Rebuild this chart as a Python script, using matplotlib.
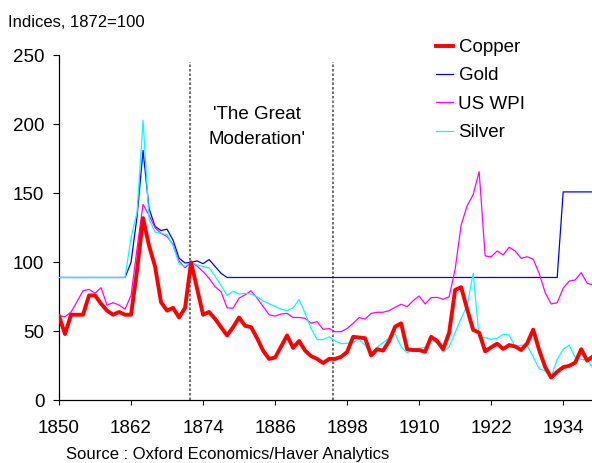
import numpy as np
import matplotlib
matplotlib.use("Agg")
import matplotlib.pyplot as plt

plt.rcParams['font.family'] = ['Liberation Sans', 'DejaVu Sans']

years = np.arange(1850, 1940)

copper = [61, 48, 62, 62, 62, 76, 76, 70, 65, 62,
          64, 62, 62, 94, 132, 112, 97, 71, 65, 67,
          60, 67, 100, 81, 62, 64, 59, 53, 47, 53,
          60, 54, 53, 45, 36, 30, 31, 39, 47, 38,
          43, 36, 32, 30, 27, 30, 30, 31.5, 35, 46,
          45.5, 45, 32.5, 37, 36, 43, 53.4, 55.8, 37, 36.4,
          36.4, 35.2, 46, 43, 37, 49, 80, 82, 66, 51,
          49, 35.5, 38.4, 41, 37.2, 40, 39, 36.4, 41.3, 51.2,
          36.4, 24, 16.5, 20.7, 24, 25, 27.3, 37, 28.7, 32]

gold = [89] * 12 + [100, 133, 181, 139, 126, 123, 124, 116,
                    103, 99.5, 100, 101, 99, 102, 97, 92, 89] + [89] * 55 + [151] * 6

us_wpi = [61, 60.6, 64, 71.5, 79.4, 80.4, 77.5, 81.6, 69, 70.7,
          69, 66, 76, 110, 142, 134, 125, 121, 118.6, 113,
          101, 96, 100, 97.3, 93.2, 88.4, 82.3, 78.7, 67, 66.7,
          74, 76.5, 79.3, 74, 68, 62, 61, 62.5, 63, 60,
          60, 59.4, 55.8, 57, 51.4, 52, 49.7, 49.7, 52, 55.8,
          59.9, 58.9, 63, 63.8, 63.8, 65, 67.4, 69.6, 67.8, 72.2,
          75.6, 69.8, 74.4, 74.6, 73.2, 75, 95, 127, 141, 149,
          165.7, 104.6, 104, 108.2, 105.3, 110.9, 108.2, 102.9, 104, 102.2,
          92, 78, 69.8, 70.7, 81.2, 86.4, 87.2, 92.5, 84.8, 83.5]

silver = [89] * 12 + [118, 136, 203, 131, 122, 121, 120, 112,
                      99, 97, 100, 98, 97, 96, 90, 83, 76, 79,
                      77, 77.5, 77, 75, 72, 70, 68, 66, 65, 67,
                      73, 63, 52, 44, 44, 46, 43, 41, 41.3, 42,
                      44.2, 40, 34, 38.4, 41.8, 45, 48, 38.8, 34.5, 37,
                      37.7, 38.4, 43.7, 41.3, 35, 38.8, 49, 59.4, 68.5, 92,
                      45.5, 45.4, 44.2, 45, 47.8, 47.3, 38.8, 40, 39.6, 31.6,
                      22.7, 21.5, 17.1, 29.7, 37, 40, 30.9, 29.7, 29.2, 23]

moderation = [1871.75, 1895.7]

fig = plt.figure(figsize=(5.92, 4.63), dpi=100)
ax = fig.add_axes([0.0997, 0.1354, 0.9003, 0.7452])

ax.plot(years, gold, color='#0000FF', lw=0.9, label='Gold', zorder=3)
ax.plot(years, us_wpi, color='#FF00FF', lw=0.9, label='US WPI', zorder=3)
ax.plot(years, silver, color='#00FFFF', lw=0.9, label='Silver', zorder=4)
ax.plot(years, copper, color='#FF0000', lw=2.8, label='Copper', zorder=5)

for yr in moderation:
    ax.plot([yr, yr], [0, 245], color='#555555', lw=1.2, ls=(0, (1.5, 1.2)), zorder=2)

ax.set_xlim(1850, 1938.8)
ax.set_ylim(0, 250)
ax.set_xticks(np.arange(1850, 1940, 12))
ax.set_yticks(np.arange(0, 251, 50))
ax.tick_params(axis='both', direction='out', labelsize=13.5, width=0.8)
ax.tick_params(axis='x', length=3.8, pad=10.5)
ax.tick_params(axis='y', length=4, pad=6.5)
ax.spines['top'].set_visible(False)
ax.spines['right'].set_visible(False)
ax.spines['left'].set_linewidth(0.9)
ax.spines['bottom'].set_linewidth(0.9)

handles, labels = ax.get_legend_handles_labels()
order = [3, 0, 1, 2]
fig.legend([handles[i] for i in order], [labels[i] for i in order],
           loc='upper left', bbox_to_anchor=(436 / 592, 1 - 39 / 463),
           frameon=False, fontsize=13.5, handlelength=0.9, handletextpad=0.3,
           labelspacing=0.6, borderpad=0, borderaxespad=0)

fig.text(257 / 592, 1 - 127 / 463, "'The Great\nModeration'", ha='center', va='center',
         multialignment='center', fontsize=13.5, linespacing=1.6)
fig.text(8 / 592, 1 - 27 / 463, 'Indices, 1872=100', fontsize=12, va='baseline')
fig.text(66 / 592, 1 - 459.5 / 463, 'Source : Oxford Economics/Haver Analytics',
         fontsize=12, va='baseline')

fig.savefig('out.png', dpi=100)
